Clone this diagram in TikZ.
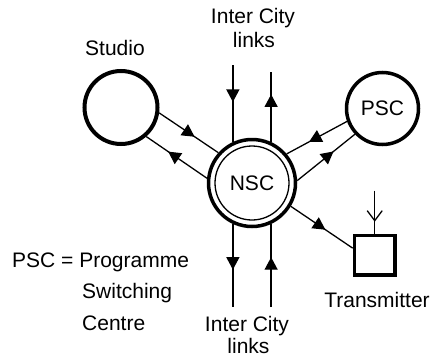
\documentclass[tikz,border=0pt]{standalone}
\usepackage{fontspec}
\setmainfont{Liberation Sans}
\usetikzlibrary{arrows.meta,decorations.markings}
\begin{document}
\begin{tikzpicture}[x=1pt,y=-1pt,
  txt/.style={font=\fontsize{21}{24}\selectfont},
  lbl/.style={txt, inner sep=0pt, anchor=base},
  station/.style={circle, draw, inner sep=0pt, txt},
  link/.style={line width=1.3pt},
  arrowat/.style={postaction={decorate}, decoration={markings, mark=at position #1 with {\arrow{Triangle[length=12.5pt,width=13pt]}}}},
  barbat/.style={postaction={decorate}, decoration={markings, mark=at position #1 with {\arrow{Straight Barb[length=10pt,width=15pt,line width=1.3pt]}}}},
]
\useasboundingbox (0,0) rectangle (433,356);

% stations
\node[station, line width=4pt, minimum size=73pt] (studio) at (121,107.5) {};
\node[station, line width=3.5pt, minimum size=87pt] (nsc) at (252,183) {NSC};
\draw[line width=1.3pt] (nsc.center) circle[radius=37];
\node[station, line width=3.5pt, minimum size=72pt] (psc) at (382.5,108.5) {PSC};
\node[draw, line width=3.5pt, minimum width=40.5pt, minimum height=39.5pt, inner sep=0pt] (tx) at (374.7,255.3) {};

% free ends
\coordinate (tl) at (nsc.115 |- 0,65);
\coordinate (tr) at (nsc.65 |- 0,72);
\coordinate (bl) at (nsc.-115 |- 0,307);
\coordinate (br) at (nsc.-65 |- 0,307);
\coordinate (ant) at (tx.north |- 0,190.7);

% connectors
\draw[link, arrowat=0.6] (studio.-8.5) -- (nsc.138.5);
\draw[link, arrowat=0.64] (nsc.174) -- (studio.-49.5);
\draw[link, arrowat=0.63] (psc.200.8) -- (nsc.40.6);
\draw[link, arrowat=0.63] (nsc.3.8) -- (psc.223.9);
\draw[link, arrowat=0.56] (nsc.-31) -- (tx.162);
\draw[link, arrowat=0.48] (tl) -- (nsc.115);
\draw[link, arrowat=0.68] (nsc.65) -- (tr);
\draw[link, arrowat=0.55] (nsc.-115) -- (bl);
\draw[link, arrowat=0.6] (br) -- (nsc.-65);
\draw[link, barbat=0.72] (ant) -- (tx.north);

% labels
\node[lbl] (ic1) at (253,23) {Inter City};
\node[lbl] (lk1) at (254,47) {links};
\node[lbl] (ic2) at (247,331) {Inter City};
\node[lbl] (lk2) at (248.5,353) {links};
\node[lbl] (stl) at (115,55) {Studio};
\node[lbl] (txl) at (377,307) {Transmitter};
\node[lbl, anchor=base west] (key1) at (12,267) {PSC = Programme};
\node[lbl, anchor=base west] (key2) at (82,298) {Switching};
\node[lbl, anchor=base west] (key3) at (82,330) {Centre};
\end{tikzpicture}
\end{document}
